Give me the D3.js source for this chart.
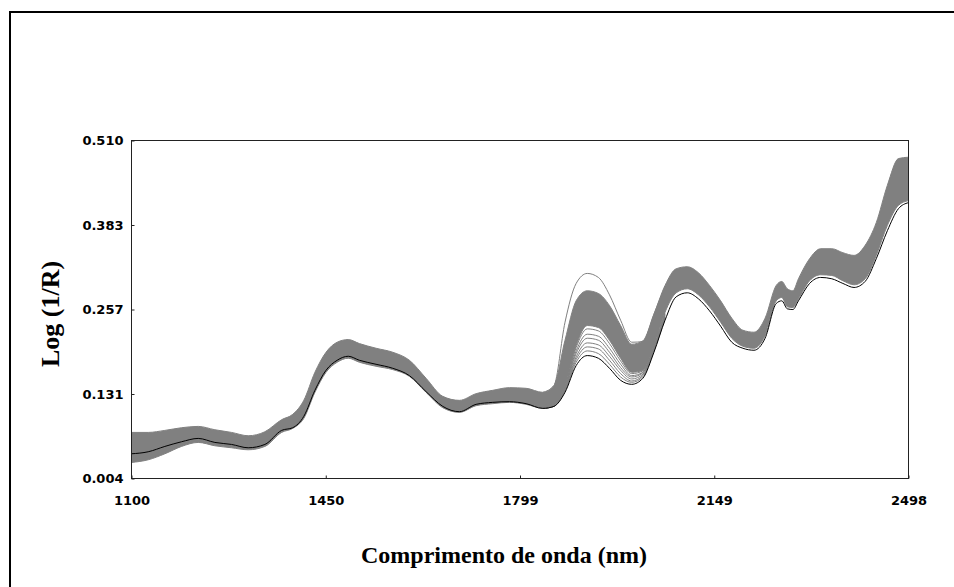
<!DOCTYPE html>
<html>
<head>
<meta charset="utf-8">
<script src="https://cdn.jsdelivr.net/npm/d3@7"></script>
<style>
  body { margin: 0; background: #fff; }
  .tick text { font-family: "DejaVu Sans", sans-serif; font-weight: bold; font-size: 13px; fill: #000; }
  .title { font-family: "Liberation Serif", "Times New Roman", serif; font-weight: bold; font-size: 24px; fill: #000; }
</style>
</head>
<body>
<svg width="954" height="587"></svg>
<script>
// wavelengths (nm) sampled along the spectra
const wavelengths = [1100, 1130, 1160, 1190, 1220, 1250, 1280, 1310, 1340, 1370, 1390, 1410, 1430, 1450,
  1470, 1490, 1510, 1540, 1570, 1600, 1630, 1660, 1690, 1720, 1750, 1780, 1810, 1840, 1860, 1880,
  1900, 1920, 1940, 1960, 1980, 2000, 2020, 2040, 2060, 2080, 2100, 2120, 2140, 2160, 2180, 2200,
  2220, 2240, 2260, 2270, 2280, 2290, 2300, 2320, 2340, 2360, 2380, 2400, 2420, 2440, 2460, 2480, 2498];

// top edge of the grey bundle of spectra
const bandTop = [.073, .073, .076, .080, .082, .077, .073, .068, .074, .092, .100, .121, .163, .193,
  .208, .212, .206, .199, .193, .181, .154, .127, .121, .131, .136, .140, .139, .133, .143, .211,
  .270, .285, .281, .263, .233, .205, .210, .250, .293, .318, .321, .312, .293, .270, .244, .226,
  .223, .244, .293, .299, .288, .285, .303, .333, .348, .348, .342, .338, .353, .387, .443, .483, .485];

// bottom edge of the grey bundle
const bandBottom = [.028, .032, .041, .052, .058, .053, .050, .047, .052, .073, .079, .094, .133, .163,
  .178, .184, .178, .172, .167, .157, .133, .110, .103, .113, .116, .118, .115, .109, .113, .143,
  .203, .233, .230, .211, .184, .163, .166, .203, .253, .282, .288, .279, .261, .238, .214, .202,
  .199, .218, .270, .275, .261, .260, .273, .300, .309, .308, .300, .294, .303, .338, .383, .413, .420];

// the single spectrum drawn in black
const darkSpectrum = [.041, .044, .052, .059, .064, .058, .055, .050, .055, .076, .080, .097, .136, .166,
  .181, .187, .181, .175, .169, .158, .134, .112, .104, .115, .118, .119, .116, .109, .112, .133,
  .173, .188, .184, .169, .151, .145, .154, .193, .241, .276, .282, .273, .255, .232, .208, .199,
  .196, .214, .266, .270, .258, .257, .270, .296, .305, .303, .296, .290, .299, .333, .375, .408, .417];

// separate spectra around the 1940 nm water band
const peakWavelengths = [1840, 1860, 1880, 1900, 1920, 1940, 1960, 1980, 2000, 2020, 2040, 2060];
const outlierHigh = [.133, .143, .238, .296, .311, .305, .279, .241, .208, .209, .250, .292];
const outlierA = [.109, .113, .142, .200, .228, .225, .206, .180, .161, .165, .202, .252];
const outlierB = [.109, .113, .140, .195, .220, .217, .199, .175, .158, .163, .200, .250];
const outlierC = [.109, .113, .139, .191, .214, .211, .193, .170, .156, .162, .199, .249];
const outlierD = [.109, .112, .137, .186, .207, .204, .187, .166, .153, .160, .198, .247];
const outlierE = [.109, .112, .136, .182, .201, .198, .181, .161, .150, .158, .197, .246];
const outlierF = [.109, .112, .135, .178, .195, .191, .175, .156, .148, .156, .195, .244];

const xTicks = [1100, 1449.5, 1799, 2148.5, 2498];
const xTickLabels = ["1100", "1450", "1799", "2149", "2498"];
const yTicks = [0.004, 0.1305, 0.257, 0.3835, 0.510];
const yTickLabels = ["0.004", "0.131", "0.257", "0.383", "0.510"];

const svg = d3.select("svg");
const pLeft = 131.5, pRight = 908.5, pTop = 140.5, pBottom = 478.5;

const x = d3.scaleLinear().domain([1100, 2498]).range([pLeft, pRight]);
const y = d3.scaleLinear().domain([0.004, 0.510]).range([pBottom, pTop]);

// outer figure frame (only left and top edges show)
svg.append("line").attr("x1", 10).attr("x2", 10).attr("y1", 11).attr("y2", 587)
  .attr("stroke", "#000").attr("stroke-width", 2);
svg.append("line").attr("x1", 9).attr("x2", 954).attr("y1", 12).attr("y2", 12)
  .attr("stroke", "#000").attr("stroke-width", 2);

svg.append("clipPath").attr("id", "plot")
  .append("rect").attr("x", pLeft).attr("y", pTop).attr("width", pRight - pLeft).attr("height", pBottom - pTop);

const g = svg.append("g").attr("clip-path", "url(#plot)");

const band = wavelengths.map((w, i) => ({ w, hi: bandTop[i], lo: bandBottom[i] }));
const area = d3.area().curve(d3.curveMonotoneX)
  .x(d => x(d.w)).y0(d => y(d.lo)).y1(d => y(d.hi));
g.append("path").datum(band).attr("d", area).attr("fill", "#808080");

const line = d3.line().curve(d3.curveMonotoneX).x(d => x(d[0])).y(d => y(d[1]));
const series = (ws, vs) => ws.map((w, i) => [w, vs[i]]);

[bandTop, bandBottom].forEach(vs => {
  g.append("path").datum(series(wavelengths, vs)).attr("d", line)
    .attr("fill", "none").attr("stroke", "#808080").attr("stroke-width", 1);
});

[outlierHigh, outlierA, outlierB, outlierC, outlierD, outlierE, outlierF].forEach(vs => {
  g.append("path").datum(series(peakWavelengths, vs)).attr("d", line)
    .attr("fill", "none").attr("stroke", "#808080").attr("stroke-width", 1);
});

g.append("path").datum(series(wavelengths, darkSpectrum)).attr("d", line)
  .attr("fill", "none").attr("stroke", "#000").attr("stroke-width", 1);

// axes
const xAxis = d3.axisBottom(x).tickValues(xTicks).tickSize(-3).tickPadding(17)
  .tickFormat((d, i) => xTickLabels[i]);
const yAxis = d3.axisLeft(y).tickValues(yTicks).tickSize(-3).tickPadding(8)
  .tickFormat((d, i) => yTickLabels[i]);

const gx = svg.append("g").attr("transform", `translate(0,${pBottom})`).call(xAxis);
const gy = svg.append("g").attr("transform", `translate(${pLeft},0)`).call(yAxis);
[gx, gy].forEach(a => {
  a.select(".domain").remove();
  a.selectAll(".tick line").attr("stroke", "#222");
});

svg.append("rect").attr("x", pLeft).attr("y", pTop)
  .attr("width", pRight - pLeft).attr("height", pBottom - pTop)
  .attr("fill", "none").attr("stroke", "#222").attr("stroke-width", 1);

svg.append("text").attr("class", "title")
  .attr("x", 504).attr("y", 563).attr("text-anchor", "middle")
  .text("Comprimento de onda (nm)");

svg.append("text").attr("class", "title").style("font-size", "26px")
  .attr("transform", "translate(59,314) rotate(-90)").attr("text-anchor", "middle")
  .text("Log (1/R)");
</script>
</body>
</html>
